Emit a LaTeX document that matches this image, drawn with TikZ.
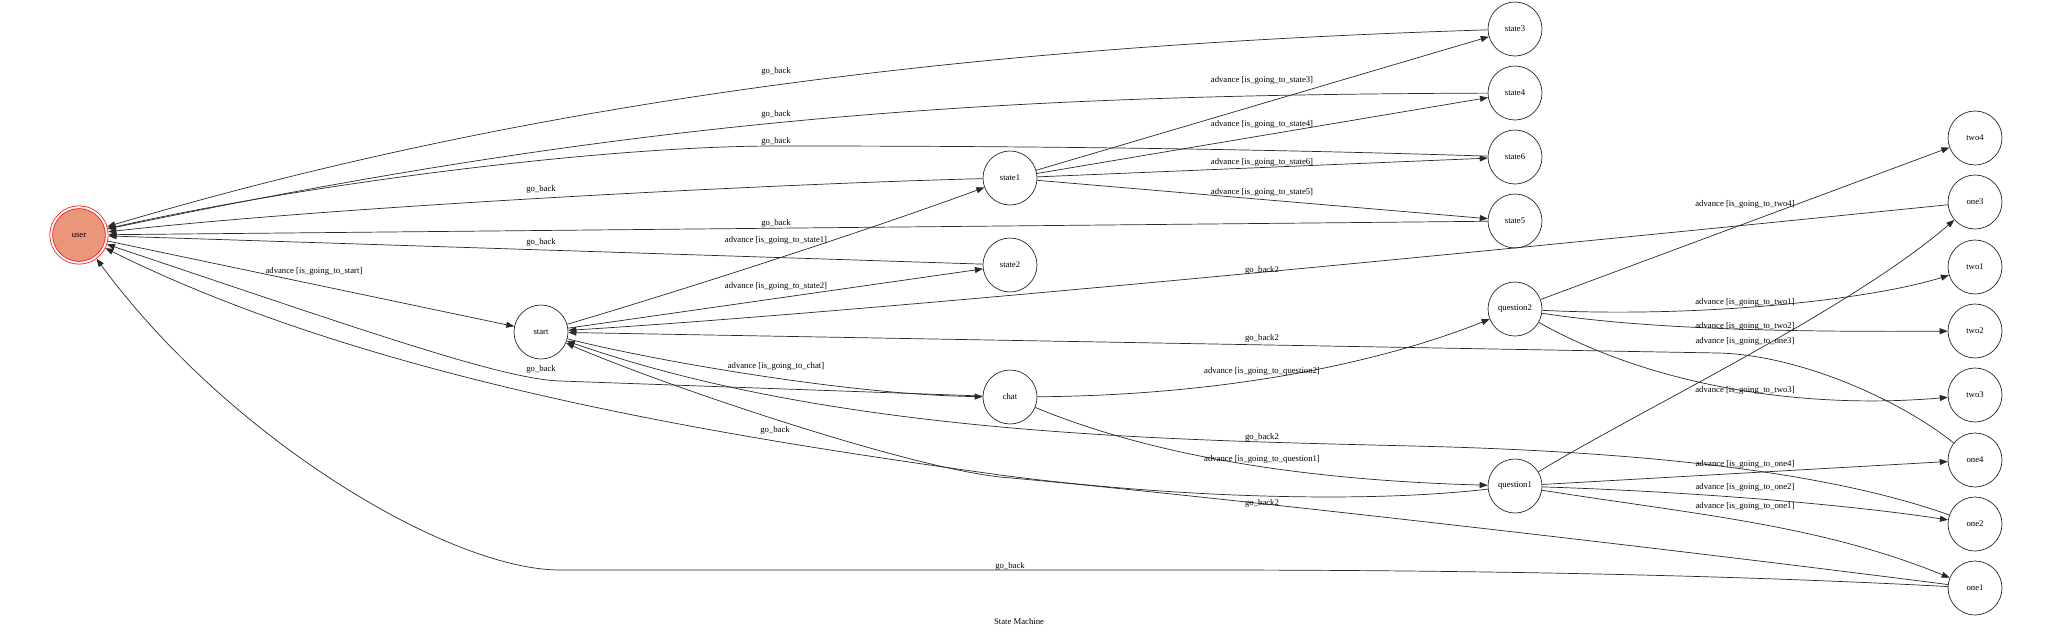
\documentclass[tikz,border=0pt]{standalone}
\usepackage{fontspec}
\setmainfont{Liberation Serif}
\usetikzlibrary{arrows.meta}
\definecolor{usercol}{RGB}{233,150,122}
\definecolor{edgecol}{RGB}{40,40,40}
\begin{document}
\begin{tikzpicture}[x=1pt,y=-1pt,
  every node/.style={font=\fontsize{8.7}{10}\selectfont},
  st/.style={circle,draw=edgecol,line width=0.7pt,minimum size=54pt,inner sep=0pt},
  acc/.style={circle,draw=red,line width=0.7pt,double=white,double distance=2pt,fill=usercol,minimum size=55.6pt,inner sep=0pt,outer sep=1.7pt},
  e/.style={draw=edgecol,line width=0.7pt,-{Triangle[length=8pt,width=6pt]}},
  lbl/.style={inner sep=0pt}]
\useasboundingbox (0,0) rectangle (2048,632);
% nodes
\node[acc] (user) at (79,235) {user};
\node[st] (start) at (541,332) {start};
\node[st] (state1) at (1010,178) {state1};
\node[st] (state2) at (1010,265) {state2};
\node[st] (chat) at (1010,397) {chat};
\node[st] (state3) at (1515,29) {state3};
\node[st] (state4) at (1515,93) {state4};
\node[st] (state6) at (1515,157) {state6};
\node[st] (state5) at (1515,221) {state5};
\node[st] (question2) at (1515,309) {question2};
\node[st] (question1) at (1515,486) {question1};
\node[st] (two4) at (1975,138) {two4};
\node[st] (one3) at (1975,202) {one3};
\node[st] (two1) at (1975,267) {two1};
\node[st] (two2) at (1975,331) {two2};
\node[st] (two3) at (1975,395) {two3};
\node[st] (one4) at (1975,460) {one4};
\node[st] (one2) at (1975,524) {one2};
\node[st] (one1) at (1975,588) {one1};
\node (title) at (1019,622) {State Machine};
% forward edges
\draw[e] (user) -- (start);
\draw[e] (start) .. controls (700,285) and (880,226) .. (state1);
\draw[e] (start) -- (state2);
\draw[e] (start) .. controls (650,360) and (850,395) .. (chat);
\draw[e] (state1) -- (state3);
\draw[e] (state1) -- (state4);
\draw[e] (state1) -- (state6);
\draw[e] (state1) -- (state5);
\draw[e] (chat) .. controls (1250,395) and (1400,355) .. (question2);
\draw[e] (chat) .. controls (1150,455) and (1300,480) .. (question1);
\draw[e] (question2) -- (two4);
\draw[e] (question2) .. controls (1700,318) and (1870,300) .. (two1);
\draw[e] (question2) .. controls (1650,330) and (1800,332) .. (two2);
\draw[e] (question2) .. controls (1650,385) and (1800,410) .. (two3);
\draw[e] (question1) .. controls (1640,410) and (1850,310) .. (one3);
\draw[e] (question1) -- (one4);
\draw[e] (question1) .. controls (1700,492) and (1850,505) .. (one2);
\draw[e] (question1) .. controls (1700,515) and (1820,525) .. (one1);
% back edges to user
\draw[e] (state3) .. controls (1000,45) and (550,95) .. (user);
\draw[e] (state4) .. controls (1000,95) and (650,115) .. (user);
\draw[e] (state6) .. controls (1200,147) and (950,146) .. (776,146) .. controls (600,146) and (300,185) .. (user);
\draw[e] (state1) .. controls (800,183) and (350,205) .. (user);
\draw[e] (state5) -- (user);
\draw[e] (state2) -- (user);
\draw[e] (chat) -- (560,381) .. controls (500,379) and (357,328) .. (user);
\draw[e] (question1) .. controls (1350,505) and (1150,495) .. (1000,475) .. controls (750,440) and (380,385) .. (user);
\draw[e] (one1) .. controls (1750,576) and (1500,570) .. (1200,570) -- (560,570) .. controls (450,570) and (230,440) .. (user);
% back edges to start
\draw[e] (one3) .. controls (1600,240) and (900,310) .. (start);
\draw[e] (one4) .. controls (1900,400) and (1800,355) .. (1718,353) -- (start);
\draw[e] (one2) .. controls (1850,480) and (1700,455) .. (1450,447) .. controls (1200,440) and (850,440) .. (start);
\draw[e] (one1) .. controls (1600,540) and (1150,490) .. (1000,477) .. controls (900,466) and (650,380) .. (start);
% labels
\node[lbl] (lstart) at (314,271) {advance [is\_going\_to\_start]};
\node[lbl] (ls1) at (776,240) {advance [is\_going\_to\_state1]};
\node[lbl] (ls2) at (776,286) {advance [is\_going\_to\_state2]};
\node[lbl] (lchat) at (776,366) {advance [is\_going\_to\_chat]};
\node[lbl] (ls3) at (1262,80) {advance [is\_going\_to\_state3]};
\node[lbl] (ls4) at (1262,124) {advance [is\_going\_to\_state4]};
\node[lbl] (ls6) at (1262,162) {advance [is\_going\_to\_state6]};
\node[lbl] (ls5) at (1262,192) {advance [is\_going\_to\_state5]};
\node[lbl] (lq2) at (1262,371) {advance [is\_going\_to\_question2]};
\node[lbl] (lq1) at (1262,459) {advance [is\_going\_to\_question1]};
\node[lbl] (ltwo4) at (1745,204) {advance [is\_going\_to\_two4]};
\node[lbl] (ltwo1) at (1745,302) {advance [is\_going\_to\_two1]};
\node[lbl] (ltwo2) at (1745,326) {advance [is\_going\_to\_two2]};
\node[lbl] (lone3) at (1745,341) {advance [is\_going\_to\_one3]};
\node[lbl] (ltwo3) at (1745,390) {advance [is\_going\_to\_two3]};
\node[lbl] (lone4) at (1745,464) {advance [is\_going\_to\_one4]};
\node[lbl] (lone2) at (1745,487) {advance [is\_going\_to\_one2]};
\node[lbl] (lone1) at (1745,506) {advance [is\_going\_to\_one1]};
\node[lbl] (gb3) at (776,71) {go\_back};
\node[lbl] (gb4) at (776,114) {go\_back};
\node[lbl] (gb6) at (776,141) {go\_back};
\node[lbl] (gb1) at (541,189) {go\_back};
\node[lbl] (gb5) at (776,223) {go\_back};
\node[lbl] (gb2) at (541,242) {go\_back};
\node[lbl] (gbc) at (541,369) {go\_back};
\node[lbl] (gbq1) at (775,430) {go\_back};
\node[lbl] (gbo1) at (1010,566) {go\_back};
\node[lbl] (gbb3) at (1262,270) {go\_back2};
\node[lbl] (gbb4) at (1262,338) {go\_back2};
\node[lbl] (gbb2) at (1262,437) {go\_back2};
\node[lbl] (gbb1) at (1262,503) {go\_back2};
\end{tikzpicture}
\end{document}
